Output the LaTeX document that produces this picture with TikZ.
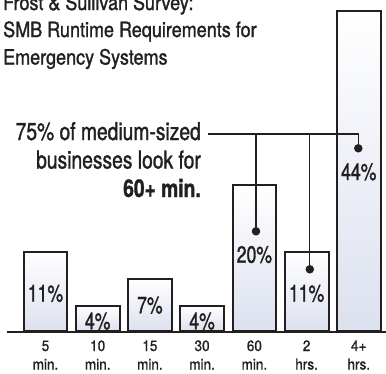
\documentclass[tikz,border=0pt]{standalone}
\usepackage{fontspec}
\setmainfont{TeX Gyre Heros}
\newfontfamily\titlef[FakeStretch=0.857,FakeBold=1.3]{TeX Gyre Heros}
\newfontfamily\annf[FakeStretch=0.786,FakeBold=1.3]{TeX Gyre Heros}
\newfontfamily\pctf[FakeStretch=0.75,FakeBold=1.3]{TeX Gyre Heros}
\newfontfamily\catf[FakeStretch=0.9,FakeBold=1.1]{TeX Gyre Heros}
\definecolor{ink}{HTML}{231F20}
\definecolor{barlow}{HTML}{DCE1EF}
\tikzset{
  bar/.style={draw=ink, line width=2pt, top color=white, bottom color=barlow,
    minimum width=43.8pt, inner sep=0pt, anchor=south},
  pct/.style={font=\pctf\fontsize{23.5}{23.5}\selectfont, text=ink, anchor=base, inner sep=0pt},
  cat/.style={font=\catf\fontsize{15}{15}\selectfont, text=ink, anchor=base, inner sep=0pt},
  titletext/.style={font=\titlef\fontsize{21}{27}\selectfont, text=ink, anchor=base west, inner sep=0pt},
  anntext/.style={font=\annf\fontsize{24.5}{28}\selectfont, text=ink, anchor=base east, inner sep=0pt},
  dotmark/.style={circle, fill=ink, inner sep=0pt, minimum size=8.5pt},
  leader/.style={draw=ink, line width=1.3pt},
  axisline/.style={draw=ink, line width=2pt}
}
\begin{document}
\begin{tikzpicture}[x=1pt,y=-1pt]
\useasboundingbox (0,0) rectangle (386,373);
\clip (0,0) rectangle (386,373);
% title
\node[titletext] (t1) at (3,10) {Frost \& Sullivan Survey:};
\node[titletext] (t2) at (3,37) {SMB Runtime Requirements for};
\node[titletext] (t3) at (3,64.5) {Emergency Systems};
% bars
\node[bar, minimum height=78.7pt] (b1) at (45.5,332) {};
\node[bar, minimum height=25pt]   (b2) at (97.7,332) {};
\node[bar, minimum height=52pt]   (b3) at (149.9,332) {};
\node[bar, minimum height=25pt]   (b4) at (202.1,332) {};
\node[bar, minimum height=146pt]  (b5) at (254.4,332) {};
\node[bar, minimum height=78.7pt] (b6) at (306.6,332) {};
\node[bar, minimum height=320pt]  (b7) at (358.8,332) {};
% axis
\coordinate (ax0) at (7,332);
\coordinate (ax1) at (386,332);
\draw[axisline] (ax0) -- (ax1);
% percentages
\node[pct] (p1) at (45.5,301.5) {11\%};
\node[pct] (p2) at (97.7,329.3) {4\%};
\node[pct] (p3) at (149.9,313.3) {7\%};
\node[pct] (p4) at (202.1,329.3) {4\%};
\node[pct] (p5) at (254.4,262.7) {20\%};
\node[pct] (p6) at (306.6,301.5) {11\%};
\node[pct] (p7) at (358.8,180) {44\%};
% categories
\node[cat] (c1a) at (45.5,351) {5};   \node[cat] (c1b) at (45.5,369.5) {min.};
\node[cat] (c2a) at (97.7,351) {10};  \node[cat] (c2b) at (97.7,369.5) {min.};
\node[cat] (c3a) at (149.9,351) {15}; \node[cat] (c3b) at (149.9,369.5) {min.};
\node[cat] (c4a) at (202.1,351) {30}; \node[cat] (c4b) at (202.1,369.5) {min.};
\node[cat] (c5a) at (254.4,351) {60}; \node[cat] (c5b) at (254.4,369.5) {min.};
\node[cat] (c6a) at (306.6,351) {2};  \node[cat] (c6b) at (306.6,369.5) {hrs.};
\node[cat] (c7a) at (358.8,351) {4+}; \node[cat] (c7b) at (358.8,369.5) {hrs.};
% annotation
\node[anntext] (a1) at (201,140) {75\% of medium-sized};
\node[anntext] (a2) at (201,168.5) {businesses look for};
\node[anntext] (a3) at (201,197) {\bfseries 60+ min.};
% leaders
\coordinate (h0) at (207.7,134);
\coordinate (j5) at (256,134);
\coordinate (j6) at (309.8,134);
\coordinate (j7) at (358.3,134);
\node[dotmark] (d5) at (256,231.3) {};
\node[dotmark] (d6) at (309.8,269.3) {};
\node[dotmark] (d7) at (358.3,148.3) {};
\draw[leader] (h0) -- (j7) -- (d7.center);
\draw[leader] (j5) -- (d5.center);
\draw[leader] (j6) -- (d6.center);
\end{tikzpicture}
\end{document}
